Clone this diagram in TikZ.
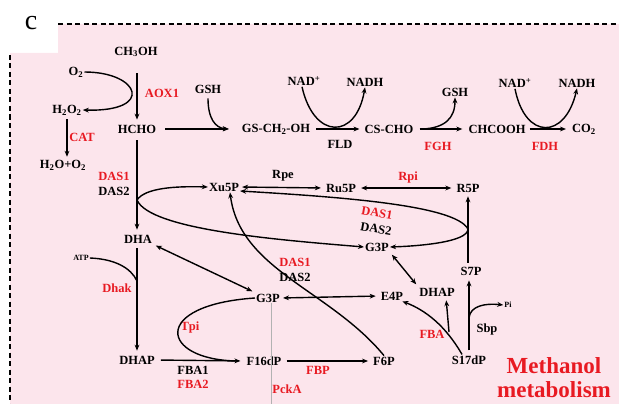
\documentclass[tikz,border=0pt]{standalone}
\usepackage{fontspec}
\setmainfont{Liberation Serif}
\usetikzlibrary{arrows.meta}
\definecolor{bgpink}{RGB}{252,229,236}
\definecolor{myred}{RGB}{232,26,34}
\tikzset{
  lbl/.style={font=\bfseries\fontsize{12.5}{13}\selectfont, inner sep=1pt, text=black},
  rlbl/.style={lbl, text=myred},
  sml/.style={font=\bfseries\fontsize{8}{9}\selectfont, inner sep=1pt},
  ln/.style={line width=1.4pt},
  arr/.style={ln, -{Stealth[length=6pt,width=4.8pt]}},
  darr/.style={ln, {Stealth[length=6pt,width=4.8pt]}-{Stealth[length=6pt,width=4.8pt]}},
  frame/.style={line width=1.3pt, dash pattern=on 5pt off 3.5pt},
}
\begin{document}
\begin{tikzpicture}[x=1pt,y=-1pt]
\useasboundingbox (0,0) rectangle (619,404);
\fill[bgpink] (58,24) -- (619,24) -- (619,404) -- (10,404) -- (10,53) -- (58,53) -- cycle;
\draw[frame] (58,24) -- (619,24);
\draw[frame] (10,55) -- (10,404);
\node[font=\fontsize{28}{28}\selectfont, inner sep=0pt] (lc) at (31,23) {c};

% top part
\node[lbl] (ch3oh) at (136,52) {CH\textsubscript{3}OH};
\node[lbl] (o2) at (76,72) {O\textsubscript{2}};
\node[rlbl] (aox) at (162,93) {AOX1};
\node[lbl] (h2o2) at (67,110) {H\textsubscript{2}O\textsubscript{2}};
\node[lbl] (hcho) at (137,129) {HCHO};
\node[rlbl] (cat) at (82,137) {CAT};
\node[lbl] (h2o) at (63,165) {H\textsubscript{2}O+O\textsubscript{2}};
\node[lbl] (gsh1) at (208,89) {GSH};
\node[lbl] (gsch) at (276,129) {GS-CH\textsubscript{2}-OH};
\node[lbl] (nad1) at (304,81) {NAD\textsuperscript{+}};
\node[lbl] (nadh1) at (365,82) {NADH};
\node[lbl] (fld) at (340,144) {FLD};
\node[lbl] (cscho) at (389,129) {CS-CHO};
\node[lbl] (gsh2) at (455,92) {GSH};
\node[rlbl] (fgh) at (438,146) {FGH};
\node[lbl] (chcooh) at (497,129) {CHCOOH};
\node[lbl] (nad2) at (515,83) {NAD\textsuperscript{+}};
\node[lbl] (nadh2) at (577,83) {NADH};
\node[rlbl] (fdh) at (545,146) {FDH};
\node[lbl] (co2) at (584,129) {CO\textsubscript{2}};

% middle
\node[rlbl] (das1a) at (114,176) {DAS1};
\node[lbl] (das2a) at (114,191) {DAS2};
\node[lbl] (xu5p) at (224,187) {Xu5P};
\node[lbl] (rpe) at (283,176) {Rpe};
\node[lbl] (ru5p) at (341,188) {Ru5P};
\node[rlbl] (rpi) at (408,177) {Rpi};
\node[lbl] (r5p) at (468,188) {R5P};
\node[rlbl, rotate=-10] (das1b) at (377,213) {DAS1};
\node[lbl, rotate=-10] (das2b) at (376,229) {DAS2};
\node[lbl] (g3pa) at (377,247) {G3P};
\node[lbl] (dha) at (138,239) {DHA};
\node[sml] (atp) at (81,258) {ATP};
\node[rlbl] (dhak) at (117,288) {Dhak};
\node[rlbl] (das1c) at (295,262) {DAS1};
\node[lbl] (das2c) at (295,277) {DAS2};
\node[lbl] (g3pb) at (268,298) {G3P};
\node[lbl] (e4p) at (392,296) {E4P};
\node[lbl] (dhap2) at (437,292) {DHAP};
\node[lbl] (s7p) at (471,271) {S7P};
\node[sml] (pi) at (508,305) {Pi};
\node[lbl] (sbp) at (487,329) {Sbp};
\node[rlbl] (fba) at (432,334) {FBA};
\node[lbl] (s17dp) at (469,360) {S17dP};
\node[rlbl] (tpi) at (190,327) {Tpi};
\node[lbl] (dhap1) at (137,360) {DHAP};
\node[lbl] (fba1) at (193,370) {FBA1};
\node[rlbl] (fba2) at (193,384) {FBA2};
\node[lbl] (f16dp) at (264,361) {F16dP};
\node[rlbl] (fbp) at (318,370) {FBP};
\node[lbl] (f6p) at (384,361) {F6P};
\node[rlbl] (pcka) at (287,389) {PckA};
\node[font=\bfseries\fontsize{23}{24}\selectfont, text=myred, align=center, inner sep=0pt] (meth) at (554,378) {Methanol\\metabolism};

% branch points
\coordinate (b1) at (137,200);
\coordinate (b2) at (468,229);
\coordinate (b3) at (469,318);
\coordinate (b4) at (449,332);
\coordinate (atpj) at (137,281);
\coordinate (gbot) at (271,404);

% connectors top
\draw[arr, shorten <=15pt, shorten >=4pt] (ch3oh.south -| hcho) -- (hcho.north);
\draw[arr] (o2.east) .. controls (140,72) and (155,112) .. (h2o2.east);
\draw[arr, shorten <=3pt, shorten >=2pt] (h2o2.south) -- (h2o2.south |- h2o.north);
\draw[arr, shorten <=8pt, shorten >=12pt] (hcho.east) -- (gsch.west);
\draw[arr, shorten <=4pt] (gsh1.south) .. controls (208,118) and (215,128) .. ([xshift=-12pt]gsch.west);
\draw[arr, shorten <=5pt, shorten >=4pt] (gsch.east) -- (cscho.west);
\draw[arr] ([xshift=-2pt]nad1.south) .. controls (314,140) and (356,140) .. (nadh1.south);
\draw[arr, shorten <=5pt, shorten >=5pt] (cscho.east) -- (chcooh.west);
\draw[arr] ([xshift=8pt]cscho.east) .. controls (445,128) and (455,118) .. (gsh2.south);
\draw[arr, shorten <=3pt, shorten >=5pt] (chcooh.east) -- (co2.west);
\draw[arr] (nad2.south) .. controls (525,140) and (565,140) .. (nadh2.south);

% connectors middle
\draw[arr, shorten <=6pt, shorten >=4pt] (hcho.south) -- (hcho.south |- dha.north);
\draw[arr] (b1) .. controls (145,188) and (175,186) .. (xu5p.west);
\draw[arr] (b1) .. controls (150,230) and (280,240) .. (g3pa.west);
\draw[darr, shorten <=2pt, shorten >=4pt] (xu5p.east) -- (ru5p.west);
\draw[darr, shorten <=4pt, shorten >=4pt] (ru5p.east) -- (r5p.west);
\draw[arr, shorten <=3pt, shorten >=3pt] (s7p.north -| r5p) -- (r5p.south);
\draw[arr] (b2) .. controls (455,205) and (340,197) .. ([yshift=-4pt]xu5p.east);
\draw[arr] (b2) .. controls (468,242) and (420,246) .. (g3pa.east);
\draw[darr, shorten <=3pt, shorten >=3pt] (g3pa.south east) -- (dhap2.north west);
\draw[arr, shorten <=4pt, shorten >=4pt] (s17dp.north) -- (s17dp.north |- s7p.south);
\draw[arr] (b3) .. controls (470,306) and (485,303) .. (pi.west);
\draw[arr] ([xshift=-7pt]s17dp.north) .. controls (445,325) and (425,310) .. ([xshift=-2pt]e4p.south east);
\draw[arr, shorten >=3pt] (b4) -- ([xshift=9pt]dhap2.south);

\draw[arr, shorten <=4pt, shorten >=4pt] (dha.south -| dhap1) -- (dhap1.north);
\draw[ln] (atp.east) .. controls (115,259) and (131,268) .. (atpj);
\draw[darr, shorten <=3pt, shorten >=3pt] (dha.south east) -- (g3pb.north west);
\draw[arr, shorten <=5pt, shorten >=5pt] (dhap1.east) -- (f16dp.west);
\draw[ln] (g3pb.west) .. controls (150,305) and (160,360) .. ([xshift=-8pt]f16dp.west);
\draw[arr, shorten <=4pt, shorten >=4pt] (f16dp.east) -- (f6p.west);
\draw[arr] (f6p.north) .. controls (330,290) and (240,270) .. ([xshift=6pt]xu5p.south);
\draw[darr, shorten <=2pt, shorten >=4pt] (g3pb.east) -- (e4p.west);
\draw[gray!60, line width=0.6pt] ([xshift=3pt]g3pb.south) -- (gbot);
\end{tikzpicture}
\end{document}
